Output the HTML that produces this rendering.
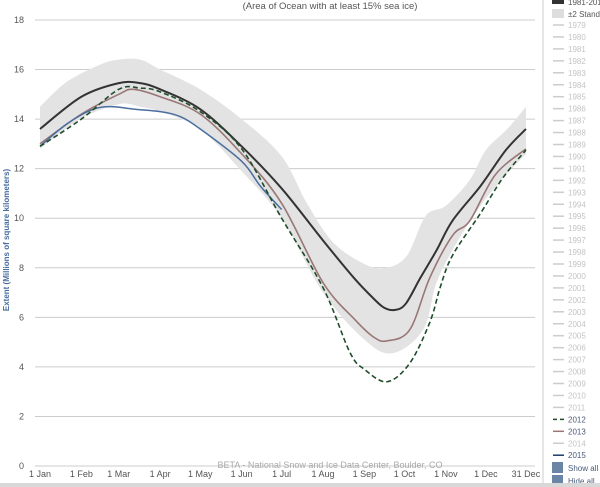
<!DOCTYPE html>
<html><head><meta charset="utf-8"><style>
body{margin:0;width:600px;height:487px;overflow:hidden;background:#fff;font-family:"Liberation Sans",sans-serif;}
</style></head><body>
<svg id="s" width="600" height="487" xmlns="http://www.w3.org/2000/svg" style="position:absolute;left:0;top:0">
<text x="330" y="9" font-size="9.5" fill="#555" text-anchor="middle">(Area of Ocean with at least 15% sea ice)</text>
<g id="grid"></g>
<path id="band" fill="#e3e3e3" stroke="none"/>
<path id="mean" fill="none" stroke="#333" stroke-width="2"/>
<path id="y13" fill="none" stroke="#9a7676" stroke-width="1.6"/>
<path id="y15" fill="none" stroke="#4a6e9e" stroke-width="1.5"/>
<path id="y12" fill="none" stroke="#1f4d2a" stroke-width="1.6" stroke-dasharray="5,3"/>
<text x="330" y="468" font-size="9" fill="#aaa" text-anchor="middle">BETA - National Snow and Ice Data Center, Boulder, CO</text>
<text transform="translate(9,240) rotate(-90)" font-size="8" fill="#4a6e9e" text-anchor="middle" font-weight="bold">Extent (Millions of square kilometers)</text>
<line x1="543" y1="0" x2="543" y2="487" stroke="#ccc"/>
<g id="leg" font-size="8"></g>
<rect x="0" y="483" width="600" height="4" fill="#d8d8d8"/>
</svg>
<script>
(function(){
function X(d){return 40+d*1.335}function Y(v){return 466-v*24.78}
var g=document.getElementById('grid'),h='';
for(var v=0;v<=18;v+=2){h+='<line x1="35" x2="535" y1="'+Y(v)+'" y2="'+Y(v)+'" stroke="#ccc"/>';h+='<text x="24" y="'+(Y(v)+3)+'" font-size="9" fill="#555" text-anchor="end">'+v+'</text>';}
var lab=[['1 Jan',0],['1 Feb',31],['1 Mar',59],['1 Apr',90],['1 May',120],['1 Jun',151],['1 Jul',181],['1 Aug',212],['1 Sep',243],['1 Oct',273],['1 Nov',304],['1 Dec',334],['31 Dec',364]];
lab.forEach(function(l){h+='<text x="'+X(l[1])+'" y="477" font-size="9" fill="#555" text-anchor="middle">'+l[0]+'</text>'});
g.innerHTML=h;
function P(pts){var p=pts.map(function(a){return[X(a[0]),Y(a[1])]});var d='M'+p[0][0]+','+p[0][1];
for(var i=0;i<p.length-1;i++){var p0=p[i-1]||p[i],p1=p[i],p2=p[i+1],p3=p[i+2]||p2;
d+=' C'+(p1[0]+(p2[0]-p0[0])/6)+','+(p1[1]+(p2[1]-p0[1])/6)+' '+(p2[0]-(p3[0]-p1[0])/6)+','+(p2[1]-(p3[1]-p1[1])/6)+' '+p2[0]+','+p2[1];}return d;}
var mean=[[0,13.6],[31,14.9],[59,15.45],[75,15.45],[90,15.2],[120,14.4],[151,12.9],[181,11.2],[212,9.1],[235,7.6],[250,6.75],[258,6.38],[266,6.3],[274,6.55],[285,7.6],[297,8.7],[309,9.9],[330,11.3],[349,12.75],[364,13.6]];
var bt=[[0,14.5],[20,15.5],[45,16.2],[59,16.4],[75,16.4],[90,16.0],[120,15.2],[151,14.0],[181,12.5],[200,10.6],[220,9.0],[245,8.1],[260,8.0],[275,8.5],[289,10.1],[304,10.5],[322,11.55],[334,12.75],[350,13.6],[364,14.5]];
var bb=[[0,12.8],[30,14.0],[59,14.6],[75,14.5],[90,14.3],[120,13.6],[151,11.9],[181,10.0],[212,7.0],[243,5.1],[264,4.55],[287,5.5],[297,7.4],[312,9.0],[330,10.5],[345,11.5],[364,12.6]];
document.getElementById('band').setAttribute('d',P(bt)+' L'+X(364)+','+Y(12.6)+' '+P(bb.slice().reverse()).replace('M','L')+'Z');
document.getElementById('mean').setAttribute('d',P(mean));
document.getElementById('y12').setAttribute('d',P([[0,12.9],[31,14.0],[59,15.2],[75,15.25],[90,15.1],[120,14.3],[151,12.8],[181,10.0],[212,7.2],[232,4.6],[243,3.9],[260,3.4],[277,4.15],[292,5.8],[300,7.25],[309,8.5],[330,10.2],[347,11.65],[364,12.75]]));
document.getElementById('y13').setAttribute('d',P([[0,13.0],[31,14.2],[59,15.0],[70,15.2],[90,14.9],[120,14.2],[151,12.6],[181,10.6],[212,7.4],[236,5.9],[250,5.2],[260,5.05],[277,5.5],[292,7.6],[309,9.3],[322,9.9],[341,11.75],[364,12.8]]));
document.getElementById('y15').setAttribute('d',P([[0,12.9],[20,13.8],[40,14.4],[55,14.5],[70,14.4],[90,14.3],[105,14.1],[120,13.6],[151,12.3],[165,11.3],[181,10.35]]));
var L=document.getElementById('leg'),lh='';
lh+='<rect x="552" y="-2" width="12" height="6" fill="#333"/><text x="568" y="5" fill="#555">1981-2010</text>';
lh+='<rect x="552" y="9" width="12" height="9" fill="#ddd"/><text x="568" y="17" fill="#555">±2 Standard</text>';
for(var yr=1979;yr<=2015;yr++){var yy=25+(yr-1979)*11.95;var c='#ccc',tc='#c4c4c4',da='';
if(yr==2012){c='#1f4d2a';tc='#4a5a7a';da=' stroke-dasharray="4,3"'}if(yr==2013){c='#9a7676';tc='#4a5a7a'}if(yr==2015){c='#1d3a66';tc='#4a5a7a'}
lh+='<line x1="553" x2="564" y1="'+yy+'" y2="'+yy+'" stroke="'+c+'" stroke-width="1.5"'+da+'/><text x="568" y="'+(yy+3)+'" fill="'+tc+'">'+yr+'</text>';}
lh+='<rect x="552" y="462" width="11" height="11" fill="#6a85a6"/><text x="568" y="471" fill="#4a5a7a">Show all</text>';
lh+='<rect x="552" y="475" width="11" height="11" fill="#6a85a6"/><text x="568" y="484" fill="#4a5a7a">Hide all</text>';
L.innerHTML=lh;
})();
</script>
</body></html>
